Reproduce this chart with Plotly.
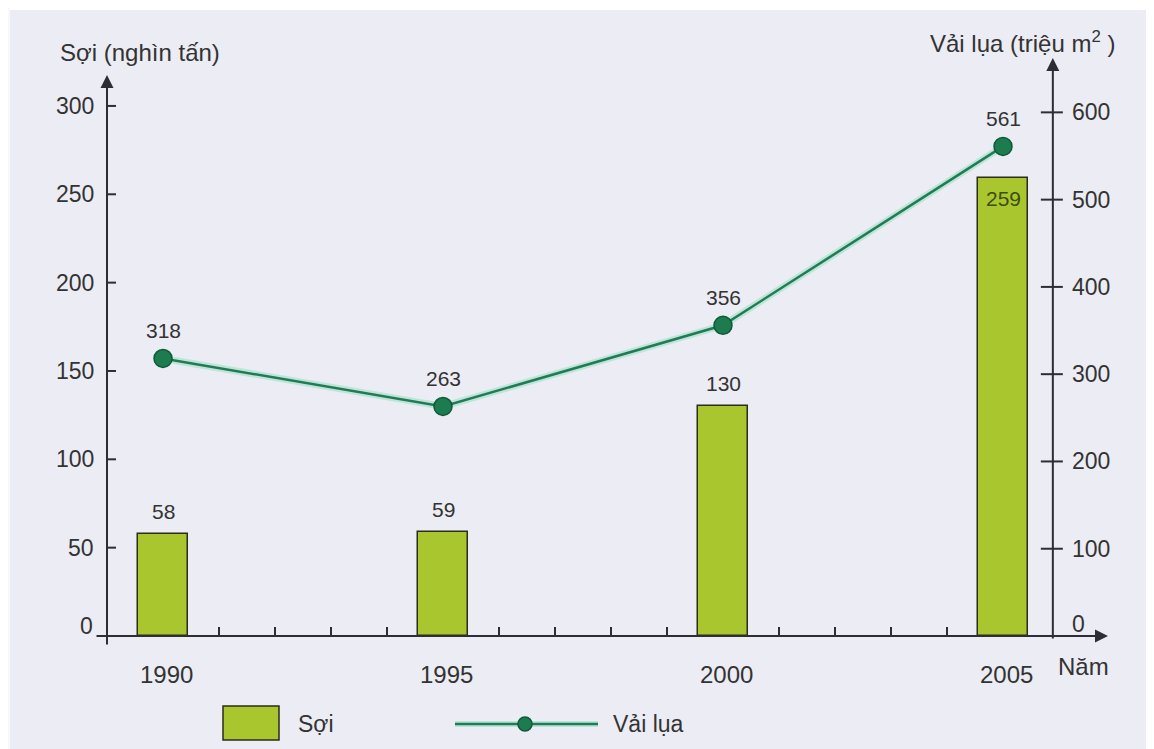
import plotly.graph_objects as go

# ---- data ----
years = [1990, 1995, 2000, 2005]
soi = [58, 59, 130, 259]          # nghìn tấn
vai_lua = [318, 263, 356, 561]    # triệu m2
left_ticks = [0, 50, 100, 150, 200, 250, 300]
right_ticks = [0, 100, 200, 300, 400, 500, 600]
minor_years = list(range(1990, 2006))
x_labels = ["1990", "1995", "2000", "2005"]

# ---- geometry (page has an 8px body margin) ----
W, H = 1146, 741
ML, MR, MT, MB = 99, 39, 52, 113
PW, PH = W - ML - MR, H - MT - MB
X0, X1 = 1989, 2007
YL_MAX, YR_MAX = 326, 660
RIGHT_AX = 2005.89
AX_COL = "#2d2d33"
TXT_COL = "#333333"
BAR_COL = "#A9C62E"
BAR_EDGE = "#2b2b1e"
LINE_COL = "#237A57"
GLOW_COL = "rgba(130,225,180,0.45)"
MK_COL = "#1C7C50"
MK_EDGE = "#0f5a37"
FONT = "Liberation Sans, Arial, sans-serif"


def px_x(p):   # page pixel -> paper
    return (p - 107) / PW


def px_y(p):
    return (636 - p) / PH


fig = go.Figure()

fig.add_trace(go.Bar(
    x=years, y=soi, width=0.89, yaxis="y",
    marker=dict(color=BAR_COL, line=dict(color=BAR_EDGE, width=1.5)),
    showlegend=False, hoverinfo="x+y",
))
fig.add_trace(go.Scatter(
    x=years, y=vai_lua, yaxis="y2", mode="lines",
    line=dict(color=GLOW_COL, width=7), hoverinfo="skip", showlegend=False,
))
fig.add_trace(go.Scatter(
    x=years, y=vai_lua, yaxis="y2", mode="lines+markers",
    line=dict(color=LINE_COL, width=2.5),
    marker=dict(size=18, color=MK_COL, line=dict(color=MK_EDGE, width=1.5)),
    cliponaxis=False, showlegend=False,
))

shapes = []
annotations = []

# value labels
for i, (yv, v) in enumerate(zip(years, soi)):
    inside = i == len(soi) - 1
    annotations.append(dict(x=yv, y=v, xref="x", yref="y", text=str(v), showarrow=False,
                            xanchor="center", yanchor="top" if inside else "bottom",
                            yshift=-7 if inside else 9,
                            font=dict(family=FONT, size=21,
                                      color="#3f4d0c" if inside else TXT_COL)))
for yv, v in zip(years, vai_lua):
    annotations.append(dict(x=yv, y=v, xref="x", yref="y2", text=str(v), showarrow=False,
                            xanchor="center", yanchor="middle", yshift=28,
                            font=dict(family=FONT, size=21, color=TXT_COL)))

# white border strips of the picture
shapes.append(dict(type="rect", xref="paper", yref="paper", x0=-0.2, x1=1.2,
                   y0=px_y(10), y1=px_y(-20), fillcolor="white", line=dict(width=0), layer="below"))
shapes.append(dict(type="rect", xref="paper", yref="paper", x0=px_x(-20), x1=px_x(10),
                   y0=px_y(760), y1=px_y(-20), fillcolor="#f8f8fb", line=dict(width=0), layer="below"))

# axis lines with arrows
yr_px = PW / (X1 - X0)
annotations.append(dict(x=X0, y=px_y(75), xref="x", yref="paper", ax=0, ay=646 - 75,
                        axref="pixel", ayref="pixel", text="", showarrow=True,
                        arrowhead=2, arrowsize=1.3, arrowwidth=2, arrowcolor=AX_COL))
annotations.append(dict(x=RIGHT_AX, y=px_y(58), xref="x", yref="paper", ax=0, ay=640 - 58,
                        axref="pixel", ayref="pixel", text="", showarrow=True,
                        arrowhead=2, arrowsize=1.3, arrowwidth=2, arrowcolor=AX_COL))
annotations.append(dict(x=X0 + (1108 - 107) / yr_px, y=0, xref="x", yref="y",
                        ax=-(1108 - 95), ay=0, axref="pixel", ayref="pixel", text="",
                        showarrow=True, arrowhead=2, arrowsize=1.3, arrowwidth=2,
                        arrowcolor=AX_COL))

# ticks and tick labels
for v in left_ticks:
    shapes.append(dict(type="line", xref="x", yref="y", x0=X0 - 9 / yr_px, x1=X0 + 9 / yr_px,
                       y0=v, y1=v, line=dict(color=AX_COL, width=2)))
    annotations.append(dict(x=X0, y=v, xref="x", yref="y", text=str(v), showarrow=False,
                            xanchor="right", yanchor="middle", xshift=-11 if v else -12,
                            yshift=0 if v else 10,
                            font=dict(family=FONT, size=23, color=TXT_COL)))
for v in right_ticks:
    if v:
        shapes.append(dict(type="line", xref="x", yref="y2", x0=RIGHT_AX - 12 / yr_px,
                           x1=RIGHT_AX + 10 / yr_px, y0=v, y1=v,
                           line=dict(color=AX_COL, width=2)))
    annotations.append(dict(x=RIGHT_AX, y=v, xref="x", yref="y2", text=str(v), showarrow=False,
                            xanchor="left", yanchor="middle", xshift=17,
                            yshift=0 if v else 12,
                            font=dict(family=FONT, size=23, color=TXT_COL)))
tick_h = 9 * YL_MAX / PH
for yv in minor_years:
    shapes.append(dict(type="line", xref="x", yref="y", x0=yv, x1=yv, y0=-tick_h, y1=tick_h,
                       line=dict(color=AX_COL, width=2), layer="below"))
for yv, lab in zip(years, x_labels):
    annotations.append(dict(x=yv, y=0, xref="x", yref="y", text=lab, showarrow=False,
                            xanchor="center", yanchor="top", yshift=-23, xshift=3,
                            font=dict(family=FONT, size=24, color=TXT_COL)))
annotations.append(dict(x=RIGHT_AX, y=0, xref="x", yref="y", text="Năm", showarrow=False,
                        xanchor="left", yanchor="top", yshift=-15, xshift=3,
                        font=dict(family=FONT, size=24, color=TXT_COL)))

# axis titles
annotations.append(dict(x=px_x(58), y=px_y(52), xref="paper", yref="paper",
                        text="Sợi (nghìn tấn)", showarrow=False, xanchor="left", yanchor="middle",
                        font=dict(family=FONT, size=24, color=TXT_COL)))
annotations.append(dict(x=px_x(1117), y=px_y(42), xref="paper", yref="paper",
                        text="Vải lụa (triệu m<sup>2</sup> )", showarrow=False,
                        xanchor="right", yanchor="middle",
                        font=dict(family=FONT, size=24, color=TXT_COL)))

# legend
shapes.append(dict(type="rect", xref="paper", yref="paper", x0=px_x(223), x1=px_x(279),
                   y0=px_y(740), y1=px_y(706), fillcolor=BAR_COL,
                   line=dict(color=BAR_EDGE, width=1.5)))
annotations.append(dict(x=px_x(296), y=px_y(724), xref="paper", yref="paper", text="Sợi",
                        showarrow=False, xanchor="left", yanchor="middle",
                        font=dict(family=FONT, size=23, color=TXT_COL)))
shapes.append(dict(type="line", xref="paper", yref="paper", x0=px_x(455), x1=px_x(598),
                   y0=px_y(724), y1=px_y(724), line=dict(color=GLOW_COL, width=6)))
shapes.append(dict(type="line", xref="paper", yref="paper", x0=px_x(455), x1=px_x(598),
                   y0=px_y(724), y1=px_y(724), line=dict(color=LINE_COL, width=2.5)))
shapes.append(dict(type="circle", xref="paper", yref="paper", x0=px_x(518), x1=px_x(532),
                   y0=px_y(731), y1=px_y(717), fillcolor=MK_COL,
                   line=dict(color=MK_EDGE, width=1.5)))
annotations.append(dict(x=px_x(611), y=px_y(724), xref="paper", yref="paper", text="Vải lụa",
                        showarrow=False, xanchor="left", yanchor="middle",
                        font=dict(family=FONT, size=23, color=TXT_COL)))

fig.update_layout(
    width=W, height=H,
    margin=dict(l=ML, r=MR, t=MT, b=MB, pad=0),
    paper_bgcolor="#ECECF4", plot_bgcolor="#ECECF4",
    xaxis=dict(range=[X0, X1], visible=False, fixedrange=True),
    yaxis=dict(range=[0, YL_MAX], visible=False, fixedrange=True),
    yaxis2=dict(range=[0, YR_MAX], overlaying="y", visible=False, fixedrange=True),
    shapes=shapes, annotations=annotations,
    showlegend=False, bargap=0,
)

fig.write_html("out.html", config={"displayModeBar": False})
